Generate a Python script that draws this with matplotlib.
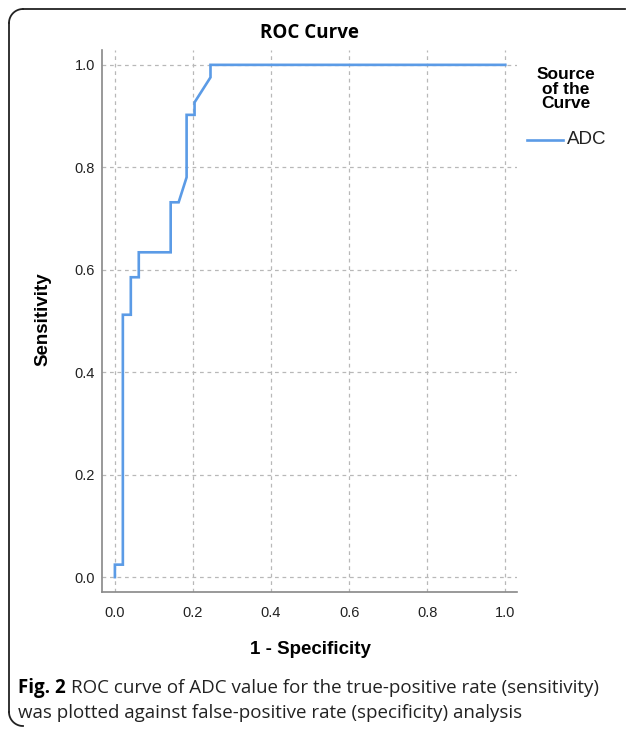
import matplotlib
matplotlib.use("Agg")
import matplotlib.pyplot as plt
from matplotlib.lines import Line2D
import numpy as np

# ROC curve points
fpr = [0.0, 0.0, 0.0204, 0.0204, 0.0408, 0.0408, 0.0612, 0.0612, 0.1429, 0.1429,
       0.1633, 0.1837, 0.1837, 0.2041, 0.2041, 0.2449, 0.2449, 1.0]
tpr = [0.0, 0.0244, 0.0244, 0.5122, 0.5122, 0.5854, 0.5854, 0.6341, 0.6341, 0.7317,
       0.7317, 0.7805, 0.9024, 0.9024, 0.9268, 0.9756, 1.0, 1.0]
ticks = [0.0, 0.2, 0.4, 0.6, 0.8, 1.0]
tick_labels = ["0.0", "0.2", "0.4", "0.6", "0.8", "1.0"]
series_name = "ADC"

W, H = 627, 734
fig = plt.figure(figsize=(W / 100, H / 100), dpi=100)

def fx(px):
    return px / W

def fy(py):
    return 1 - py / H

ax = fig.add_axes([fx(102), fy(592), fx(517) - fx(102), fy(50) - fy(592)])
ax.plot(fpr, tpr, color="#5B9BE6", lw=1.9, solid_joinstyle="miter")
ax.set_xlim(-0.033, 1.03)
ax.set_ylim(-0.029, 1.029)
ax.set_xticks(ticks)
ax.set_xticklabels(tick_labels)
ax.set_yticks(ticks)
ax.set_yticklabels(tick_labels)
ax.tick_params(length=0, labelsize=10.5, labelcolor="#222222")
ax.tick_params(axis="x", pad=10)
ax.tick_params(axis="y", pad=5)
for lab in ax.get_xticklabels() + ax.get_yticklabels():
    lab.set_family("Liberation Sans")
ax.grid(True, color="#b8b8b8", ls=(0, (3, 3)), lw=0.9)
for s in ["top", "right"]:
    ax.spines[s].set_visible(False)
for s in ["left", "bottom"]:
    ax.spines[s].set_color("#888888")
    ax.spines[s].set_linewidth(1.2)

fig.text(fx(309), fy(33), "ROC Curve", ha="center", va="center",
         fontsize=13.5, fontweight="bold", family="Open Sans")
fig.text(fx(310), fy(650), "1 - Specificity", ha="center", va="center",
         fontsize=13.5, fontweight="bold", family="Liberation Sans")
fig.text(fx(43), fy(319), "Sensitivity", ha="center", va="center", rotation=90,
         fontsize=13.5, fontweight="bold", family="Liberation Sans")

# legend
fig.text(fx(566), fy(89), "Source\nof the\nCurve", ha="center", va="center",
         fontsize=12.5, fontweight="bold", family="Liberation Sans", linespacing=0.95)
fig.add_artist(Line2D([fx(527), fx(563)], [fy(140), fy(140)], color="#5B9BE6", lw=1.9))
fig.text(fx(567), fy(140), series_name, ha="left", va="center",
         fontsize=13.5, family="Liberation Sans", color="#222222")

# frame (open at right and bottom)
r = 14
fig.add_artist(Line2D([fx(W - 2), fx(9 + r)], [fy(9), fy(9)], color="#222222", lw=1.3))
fig.add_artist(Line2D([fx(9), fx(9)], [fy(9 + r), fy(H - 8 - r)], color="#222222", lw=1.3))
t = np.linspace(np.pi / 2, np.pi, 20)
fig.add_artist(Line2D(fx(9 + r + r * np.cos(t)), fy(9 + r - r * np.sin(t)), color="#222222", lw=1.3))
t2 = np.linspace(np.pi, 1.5 * np.pi, 20)
fig.add_artist(Line2D(fx(9 + r + r * np.cos(t2)), fy(H - 8 - r - r * np.sin(t2)), color="#222222", lw=1.3))

# caption
cap_size = 13.5
fig.canvas.draw()
renderer = fig.canvas.get_renderer()
bold = fig.text(fx(18), fy(688), "Fig. 2", ha="left", va="center",
                fontsize=cap_size, fontweight="bold", family="Open Sans")
bb = bold.get_window_extent(renderer)
fig.text((bb.x1 + 5) / W, fy(688),
         "ROC curve of ADC value for the true-positive rate (sensitivity)",
         ha="left", va="center", fontsize=cap_size, family="Open Sans", color="#222222")
fig.text(fx(18), fy(713), "was plotted against false-positive rate (specificity) analysis",
         ha="left", va="center", fontsize=cap_size, family="Open Sans", color="#222222")

fig.savefig("out.png", dpi=100)
